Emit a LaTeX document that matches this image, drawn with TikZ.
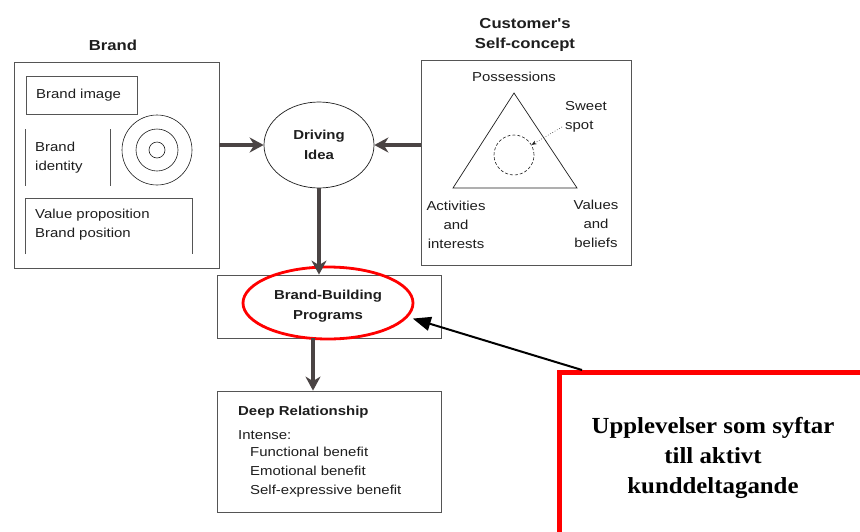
\documentclass[tikz,border=0pt]{standalone}
\usepackage{fontspec}
\newfontfamily\scanfont{Liberation Sans}[FakeStretch=1.15]
\newfontfamily\svfont{Liberation Serif}[FakeStretch=1.08]
\usetikzlibrary{arrows.meta,shapes.geometric}
\definecolor{ink}{HTML}{1E1E1E}
\definecolor{linegray}{HTML}{555555}
\definecolor{arrgray}{HTML}{4A4444}
\tikzset{
  box/.style={draw=linegray, line width=0.8pt, inner sep=0pt, rectangle},
  body/.style={text=ink, font=\scanfont\fontsize{13}{19}\selectfont, inner sep=0pt},
  bodyb/.style={text=ink, font=\scanfont\bfseries\fontsize{13}{20}\selectfont, inner sep=0pt},
  titlet/.style={text=ink, font=\scanfont\bfseries\fontsize{14.5}{20}\selectfont, inner sep=0pt, align=center},
  bigarrow/.style={draw=arrgray, line width=3.2pt, -{Stealth[length=14pt,width=15pt,inset=4.5pt]}},
}
\begin{document}
\begin{tikzpicture}[x=1pt,y=-1pt]
\useasboundingbox (0,0) rectangle (860,531);
\fill[white] (0,0) rectangle (860,531);

% ---------- Brand ----------
\node[titlet] (tbrand) at (113,45) {Brand};
\node[box, minimum width=205pt, minimum height=206pt] (brand) at (116.5,165) {};
\node[box, minimum width=111pt, minimum height=38pt] (brandimg) at (81.5,95) {};
\node[body, anchor=west] (brandimgt) at (36,95) {Brand image};
\draw[linegray, line width=0.8pt] (25,129) -- (25,186);
\draw[linegray, line width=0.8pt] (110,129) -- (110,186);
\node[body, anchor=west, align=left] (brandid) at (35,157.5) {Brand\\identity};
\draw[ink, line width=0.6pt] (157,150) circle[radius=35pt];
\draw[ink, line width=0.6pt] (157,150) circle[radius=21pt];
\draw[ink, line width=0.6pt] (157,150) circle[radius=8pt];
\draw[linegray, line width=0.8pt] (25,254) -- (25,198) -- (192,198) -- (192,254);
\node[body, anchor=west, align=left] (valprop) at (35,224.5) {Value proposition\\Brand position};

% ---------- Driving idea ----------
\node[draw=ink, line width=0.7pt, ellipse, minimum width=110pt, minimum height=86pt, inner sep=0pt] (driving) at (319,145) {};
\node[bodyb, align=center] (drivingt) at (319,145) {Driving\\Idea};

% ---------- Customer's self-concept ----------
\node[titlet] (tself) at (525,35) {Customer's\\Self-concept};
\node[box, minimum width=210pt, minimum height=205pt] (self) at (526,162.5) {};
\node[body] (poss) at (514,77) {Possessions};
\draw[ink, line width=0.7pt] (514,93) -- (453,188) -- (577,188) -- cycle;
\node[draw=ink, line width=0.6pt, dash pattern=on 3pt off 2pt, circle, minimum size=40pt, inner sep=0pt] (sweet) at (514,155) {};
\node[body, anchor=west, align=left] (sweett) at (565,117) {Sweet\\spot};
\coordinate (sweetfrom) at (562,127);
\draw[ink, line width=0.6pt, dotted, -{Stealth[length=5pt,width=4pt]}] (sweetfrom) -- (sweet.30);
\node[body, align=center] (activ) at (456,224.5) {Activities\\and\\interests};
\node[body, align=center] (values) at (596,223.5) {Values\\and\\beliefs};

% ---------- Brand-building ----------
\node[box, minimum width=224pt, minimum height=63pt] (bb) at (329,306.5) {};
\node[draw=red, line width=2.8pt, ellipse, minimum width=170pt, minimum height=72pt, inner sep=0pt] (redell) at (328,303) {};
\node[bodyb, align=center] (bbt) at (328,306) {Brand-Building\\Programs};

% ---------- Deep relationship ----------
\node[box, minimum width=224pt, minimum height=121pt] (deep) at (329,451.5) {};
\node[bodyb, anchor=west] (deept) at (238,412) {Deep Relationship};
\node[body, anchor=west] (intense) at (238,435) {Intense:};
\node[body, anchor=west, align=left] (benefits) at (250,472) {Functional benefit\\Emotional benefit\\Self-expressive benefit};

% ---------- arrows ----------
\draw[bigarrow] (brand.east |- driving.west) -- (driving.west);
\draw[bigarrow] (self.west |- driving.east) -- (driving.east);
\draw[bigarrow] (driving.south) -- (driving.south |- bb.north);
\draw[bigarrow] ([xshift=-16pt]bb.south) -- ([xshift=-16pt]deep.north);

% ---------- red annotation box ----------
\node[draw=red, line width=5pt, rectangle, inner sep=0pt, minimum width=330pt, minimum height=200pt, anchor=north west] (redbox) at (557,370) {};
\node[text=black, font=\svfont\bfseries\fontsize{23}{30}\selectfont, align=center, inner sep=0pt] (redt) at (713,458) {Upplevelser som syftar\\till aktivt\\kunddeltagande};
\draw[black, line width=2pt, shorten >=5pt, -{Triangle[length=18pt,width=14pt]}] ([xshift=25pt]redbox.north west) -- (redell.-10);
\end{tikzpicture}
\end{document}
